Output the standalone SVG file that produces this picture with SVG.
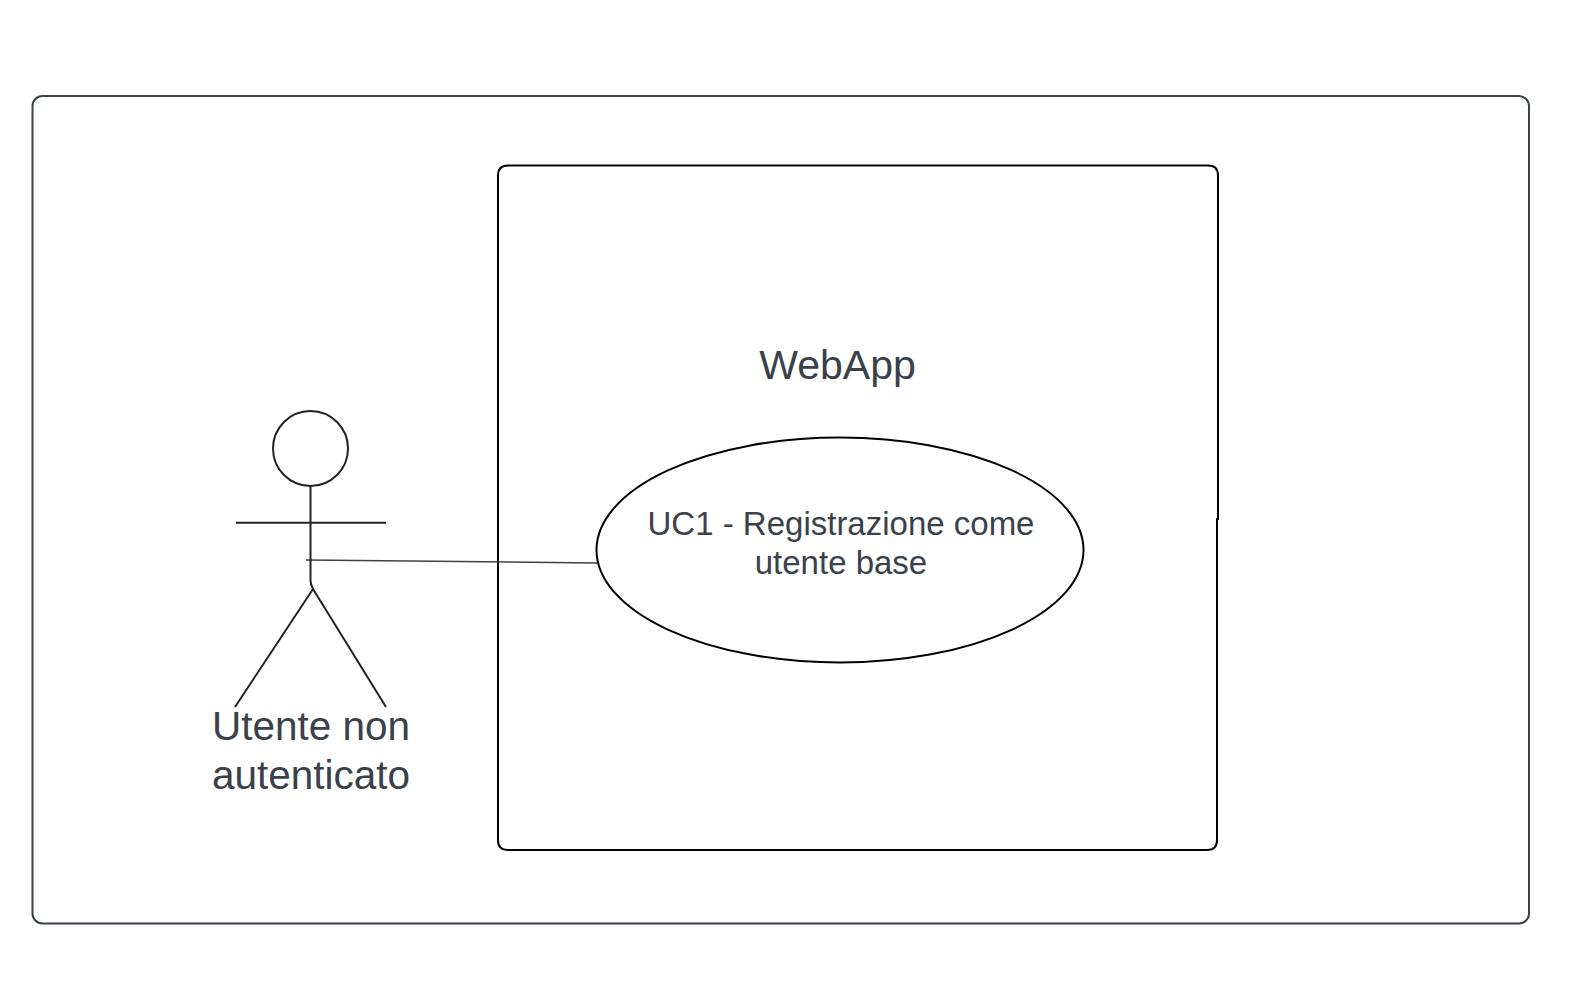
<svg xmlns="http://www.w3.org/2000/svg" width="1586" height="1008" viewBox="0 0 1586 1008">
<style>
.t{font-family:"Liberation Sans",Arial,sans-serif;fill:#3a414a;text-anchor:middle}
.s{fill:none;stroke:#222;stroke-width:2}
</style>
<rect width="1586" height="1008" fill="#fff"/>
<g id="frame"><rect x="32.5" y="96" width="1496.5" height="827.5" rx="10" fill="none" stroke="#3a414a" stroke-width="2"/></g>
<g id="system">
<path d="M508,165.5 H1208 Q1218,165.5 1218,175.5 V519 H1217 V840 Q1217,850 1207,850 H508 Q498,850 498,840 V175.5 Q498,165.5 508,165.5 Z" fill="none" stroke="#000" stroke-width="2"/>
<text class="t" x="837.5" y="379" font-size="41">WebApp</text>
</g>
<g id="connectors"><line x1="306" y1="560" x2="597" y2="563" stroke="#3a414a" stroke-width="1.5"/></g>
<g id="actor">
<circle cx="310.5" cy="448.5" r="37.5" class="s"/>
<path d="M310.5,486 V580 Q310.5,585 313,589 M236,522.7 H386 M313,589 L235,707 M313,589 L386,707" class="s"/>
<text class="t" x="311" y="740" font-size="40.5">Utente non</text>
<text class="t" x="311" y="789" font-size="40.5">autenticato</text>
</g>
<g id="uc1">
<ellipse cx="840" cy="550" rx="243.5" ry="112.5" fill="#fff" stroke="#000" stroke-width="2"/>
<text class="t" x="841" y="535" font-size="33">UC1 - Registrazione come</text>
<text class="t" x="841" y="574" font-size="33">utente base</text>
</g>
</svg>
